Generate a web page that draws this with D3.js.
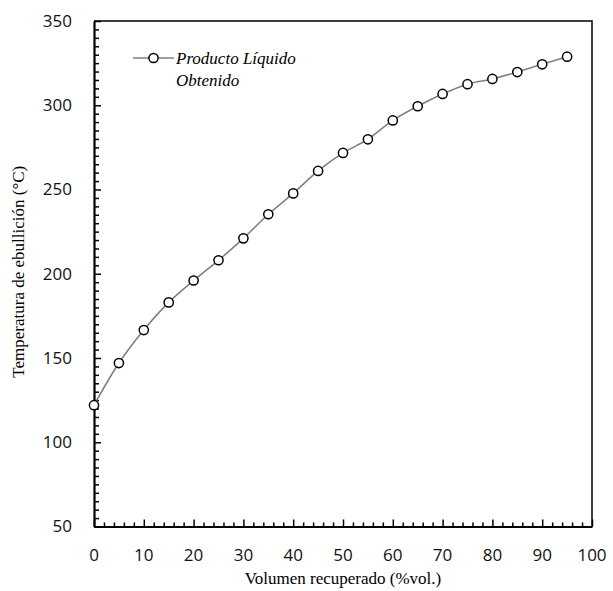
<!DOCTYPE html>
<html>
<head>
<meta charset="utf-8">
<script src="https://cdn.jsdelivr.net/npm/d3@7"></script>
<style>
  body { margin: 0; background: #fff; }
  svg { display: block; }
  .serif { font-family: "Liberation Serif", "DejaVu Serif", serif; }
  .sans { font-family: "Open Sans", "DejaVu Sans", sans-serif; }
</style>
</head>
<body>
<svg width="613" height="591"></svg>
<script>
// volumen recuperado (% vol.) vs temperatura (°C)
const volumen = [0, 5, 10, 15, 20, 25, 30, 35, 40, 45, 50, 55, 60, 65, 70, 75, 80, 85, 90, 95];
const temperatura = [122, 147, 166.6, 183, 196, 208, 221, 235.3, 247.7, 261, 271.7, 279.8, 291, 299.4, 306.7, 312.5, 315.6, 319.7, 324.3, 328.8];
const xTicks = [0, 10, 20, 30, 40, 50, 60, 70, 80, 90, 100];
const yTicks = [50, 100, 150, 200, 250, 300, 350];
const serieNombre = ["Producto Líquido", "Obtenido"];

const svg = d3.select("svg");
const mLeft = 94, mRight = 592, mTop = 21, mBottom = 526.5;

const x = d3.scaleLinear().domain([0, 100]).range([mLeft, mRight]);
const y = d3.scaleLinear().domain([50, 350]).range([mBottom, mTop]);

// top and right border
svg.append("path")
    .attr("d", `M${mLeft},${mTop}H${mRight}V${mBottom}`)
    .attr("fill", "none")
    .attr("stroke", "#000")
    .attr("stroke-width", 1.5);

// minor ticks (inside)
const xMinor = d3.range(0, 100.1, 2).filter(v => v % 10 !== 0);
const yMinor = d3.range(50, 350.1, 5).filter(v => v % 50 !== 0);

const gx = svg.append("g").attr("transform", `translate(0,${mBottom})`);
gx.call(d3.axisTop(x).tickValues(xMinor).tickSize(4).tickFormat(""));
gx.call(g => g.select(".domain").remove());
gx.selectAll("line").attr("stroke-width", 1.5);
const gx2 = svg.append("g").attr("transform", `translate(0,${mBottom})`);
gx2.call(d3.axisTop(x).tickValues(xTicks).tickSize(7).tickSizeOuter(0).tickFormat(""));
gx2.selectAll("line").attr("stroke-width", 1.5);
gx2.select(".domain").attr("stroke-width", 2.2);

const gy = svg.append("g").attr("transform", `translate(${mLeft},0)`);
gy.call(d3.axisRight(y).tickValues(yMinor).tickSize(5).tickFormat(""));
gy.call(g => g.select(".domain").remove());
gy.selectAll("line").attr("stroke-width", 1.5);
const gy2 = svg.append("g").attr("transform", `translate(${mLeft},0)`);
gy2.call(d3.axisRight(y).tickValues(yTicks).tickSize(7).tickSizeOuter(0).tickFormat(""));
gy2.selectAll("line").attr("stroke-width", 1.5);
gy2.select(".domain").attr("stroke-width", 2.2);

// tick labels
svg.append("g").selectAll("text")
    .data(xTicks)
    .join("text")
    .attr("class", "sans")
    .attr("x", d => x(d))
    .attr("y", 561)
    .attr("text-anchor", "middle")
    .attr("font-size", 17)
    .attr("fill", "#111")
    .text(d => d);

svg.append("g").selectAll("text")
    .data(yTicks)
    .join("text")
    .attr("class", "sans")
    .attr("x", 72)
    .attr("y", d => y(d))
    .attr("dy", "0.35em")
    .attr("text-anchor", "end")
    .attr("font-size", 17)
    .attr("fill", "#111")
    .text(d => d);

// axis titles
svg.append("text")
    .attr("class", "serif")
    .attr("x", (mLeft + mRight) / 2)
    .attr("y", 584)
    .attr("text-anchor", "middle")
    .attr("font-size", 17)
    .text("Volumen recuperado (%vol.)");

svg.append("text")
    .attr("class", "serif")
    .attr("transform", `translate(24,${(mTop + mBottom) / 2 - 2}) rotate(-90)`)
    .attr("text-anchor", "middle")
    .attr("font-size", 17)
    .text("Temperatura de ebullición (°C)");

// series
const pts = volumen.map((v, i) => [v, temperatura[i]]);
svg.append("path")
    .datum(pts)
    .attr("fill", "none")
    .attr("stroke", "#808080")
    .attr("stroke-width", 1.6)
    .attr("d", d3.line().x(d => x(d[0])).y(d => y(d[1])).curve(d3.curveMonotoneX));

svg.append("g").selectAll("circle")
    .data(pts)
    .join("circle")
    .attr("cx", d => x(d[0]))
    .attr("cy", d => y(d[1]))
    .attr("r", 4.6)
    .attr("fill", "#fff")
    .attr("stroke", "#000")
    .attr("stroke-width", 1.5);

// legend
const lg = svg.append("g");
lg.append("line").attr("x1", 133).attr("x2", 174).attr("y1", 58).attr("y2", 58)
    .attr("stroke", "#808080").attr("stroke-width", 1.6);
lg.append("circle").attr("cx", 153.5).attr("cy", 58).attr("r", 4.6)
    .attr("fill", "#fff").attr("stroke", "#000").attr("stroke-width", 1.5);
lg.selectAll("text")
    .data(serieNombre)
    .join("text")
    .attr("class", "serif")
    .attr("x", 176)
    .attr("y", (d, i) => 64 + i * 22)
    .attr("font-style", "italic")
    .attr("font-size", 17)
    .text(d => d);
</script>
</body>
</html>
